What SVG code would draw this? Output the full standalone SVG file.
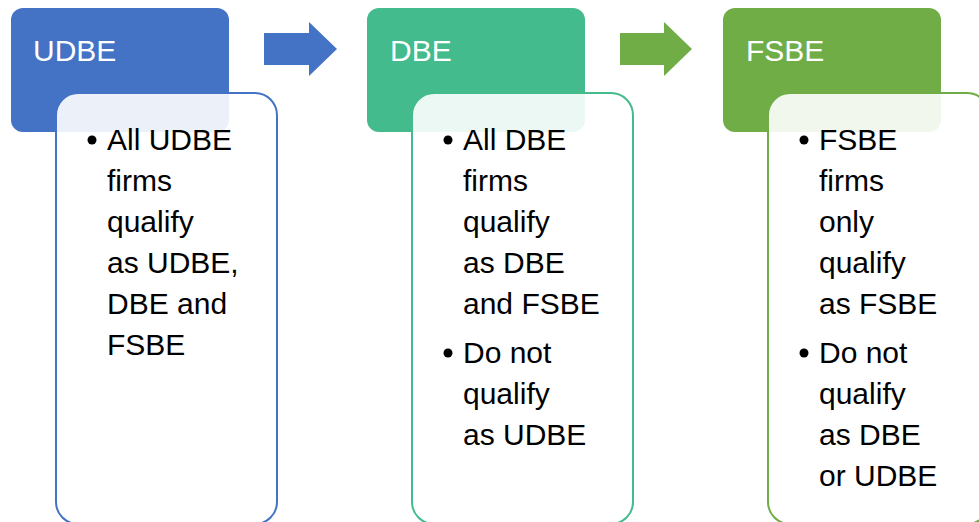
<svg xmlns="http://www.w3.org/2000/svg" width="979" height="522" viewBox="0 0 979 522">
<style>
.hdr{font-family:"Liberation Sans",Arial,sans-serif;font-size:30px;fill:#fff}
.txt{font-family:"Liberation Sans",Arial,sans-serif;font-size:30px;fill:#000}
.card{fill:#fff;fill-opacity:0.9;stroke-width:2}
</style>
<rect width="979" height="522" fill="#fff"/>
<g id="udbe">
<rect x="11" y="8" width="218" height="124" rx="12" fill="#4472C4"/>
<text class="hdr" x="33" y="61">UDBE</text>
<rect class="card" x="56" y="93" width="221" height="431" rx="22" stroke="#4472C4"/>
<circle cx="92" cy="140" r="4.5"/>
<text class="txt"><tspan x="107" y="150">All UDBE</tspan><tspan x="107" y="191">firms</tspan><tspan x="107" y="232">qualify</tspan><tspan x="107" y="273">as UDBE,</tspan><tspan x="107" y="314">DBE and</tspan><tspan x="107" y="355">FSBE</tspan></text>
</g>
<g id="dbe">
<rect x="367" y="8" width="218" height="124" rx="12" fill="#44BB8C"/>
<text class="hdr" x="390" y="61">DBE</text>
<rect class="card" x="412" y="93" width="221" height="431" rx="22" stroke="#44BB8C"/>
<circle cx="448" cy="140" r="4.5"/>
<circle cx="448" cy="353" r="4.5"/>
<text class="txt"><tspan x="463" y="150">All DBE</tspan><tspan x="463" y="191">firms</tspan><tspan x="463" y="232">qualify</tspan><tspan x="463" y="273">as DBE</tspan><tspan x="463" y="314">and FSBE</tspan><tspan x="463" y="363">Do not</tspan><tspan x="463" y="404">qualify</tspan><tspan x="463" y="445">as UDBE</tspan></text>
</g>
<g id="fsbe">
<rect x="723" y="8" width="218" height="124" rx="12" fill="#70AD47"/>
<text class="hdr" x="746" y="61">FSBE</text>
<rect class="card" x="768" y="93" width="221" height="431" rx="22" stroke="#70AD47"/>
<circle cx="804" cy="140" r="4.5"/>
<circle cx="804" cy="353" r="4.5"/>
<text class="txt"><tspan x="819" y="150">FSBE</tspan><tspan x="819" y="191">firms</tspan><tspan x="819" y="232">only</tspan><tspan x="819" y="273">qualify</tspan><tspan x="819" y="314">as FSBE</tspan><tspan x="819" y="363">Do not</tspan><tspan x="819" y="404">qualify</tspan><tspan x="819" y="445">as DBE</tspan><tspan x="819" y="486">or UDBE</tspan></text>
</g>
<g id="connectors">
<polygon points="264,33 309,33 309,22 337,49 309,76 309,65 264,65" fill="#4472C4"/>
<polygon points="620,33 664,33 664,22 692,49 664,76 664,65 620,65" fill="#70AD47"/>
</g>
</svg>
